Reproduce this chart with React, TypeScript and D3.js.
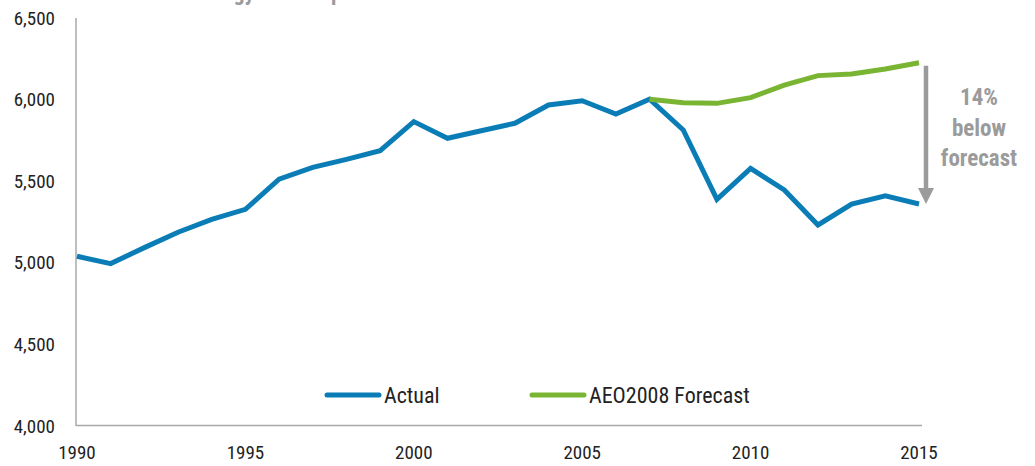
import React from "react";
import * as d3 from "d3";

// Energy consumption, actual vs. the 2008 outlook
const actualYears = [1990, 1991, 1992, 1993, 1994, 1995, 1996, 1997, 1998, 1999, 2000, 2001, 2002, 2003, 2004, 2005, 2006, 2007, 2008, 2009, 2010, 2011, 2012, 2013, 2014, 2015];
const actualValues = [5040, 4995, 5093, 5187, 5266, 5328, 5513, 5585, 5634, 5687, 5865, 5763, 5809, 5855, 5967, 5993, 5912, 6002, 5814, 5389, 5579, 5446, 5232, 5360, 5411, 5360];

const forecastYears = [2007, 2008, 2009, 2010, 2011, 2012, 2013, 2014, 2015];
const forecastValues = [6002, 5981, 5977, 6012, 6089, 6147, 6157, 6188, 6226];

const yTicks = [4000, 4500, 5000, 5500, 6000, 6500];
const xTicks = [1990, 1995, 2000, 2005, 2010, 2015];

const seriesNames = ["Actual", "AEO2008 Forecast"];
const annotationLines = ["14%", "below", "forecast"];
const titleText = "U.S. Energy Consumption";

const W = 1035;
const H = 466;
const BLUE = "#0b7db6";
const GREEN = "#79b532";
const GREY = "#9b9b9b";
const AXIS = "#a9a9a9";
const FONT = "'Liberation Sans Narrow', 'Roboto Condensed', 'DejaVu Sans Condensed', 'Liberation Sans', sans-serif";

export default function App() {
  const x = d3.scaleLinear().domain([1990, 2015]).range([77, 919]);
  const y = d3.scaleLinear().domain([4000, 6500]).range([426, 18]);
  const fmt = d3.format(",");

  const line = d3
    .line<[number, number]>()
    .x((d) => x(d[0]))
    .y((d) => y(d[1]));

  const actual = actualYears.map((yr, i) => [yr, actualValues[i]] as [number, number]);
  const forecast = forecastYears.map((yr, i) => [yr, forecastValues[i]] as [number, number]);

  const lastYear = forecastYears[forecastYears.length - 1];
  const arrowX = x(lastYear) + 7;
  const arrowTop = y(forecastValues[forecastValues.length - 1]) + 3;
  const arrowTip = y(actualValues[actualValues.length - 1]);
  const headH = 16;
  const headW = 8;

  return (
    <svg
      width={W}
      height={H}
      style={{ position: "absolute", left: 0, top: 0, background: "#fff" }}
      fontFamily={FONT}
    >
      {/* title, mostly above the frame */}
      <text x={152} y={0} fontSize={22} fontWeight="bold" fill={GREY}>
        {titleText}
      </text>

      {/* axes */}
      <line x1={76} x2={76} y1={y(6500)} y2={y(4000)} stroke={AXIS} strokeWidth={1.5} />
      <line x1={76} x2={922} y1={y(4000) - 0.5} y2={y(4000) - 0.5} stroke={AXIS} strokeWidth={1.5} />

      {yTicks.map((t) => (
        <text key={t} x={55} y={y(t)} dy="0.35em" textAnchor="end" fontSize={19} fill="#222">
          {fmt(t)}
        </text>
      ))}
      {xTicks.map((t) => (
        <text key={t} x={x(t)} y={459} textAnchor="middle" fontSize={19} fill="#222">
          {t}
        </text>
      ))}

      {/* series */}
      <path d={line(actual) ?? ""} fill="none" stroke={BLUE} strokeWidth={5} />
      <path d={line(forecast) ?? ""} fill="none" stroke={GREEN} strokeWidth={5} />

      {/* gap arrow */}
      <line x1={arrowX} x2={arrowX} y1={arrowTop} y2={arrowTip - headH + 1} stroke={GREY} strokeWidth={4.5} />
      <path
        d={`M${arrowX - headW},${arrowTip - headH} L${arrowX + headW},${arrowTip - headH} L${arrowX},${arrowTip} Z`}
        fill={GREY}
      />
      {annotationLines.map((s, i) => (
        <text
          key={s}
          x={979}
          y={97 + i * 30.5}
          dy="0.35em"
          textAnchor="middle"
          fontSize={23}
          fontWeight="bold"
          fill={GREY}
        >
          {s}
        </text>
      ))}

      {/* legend */}
      <line x1={327} x2={379} y1={395} y2={395} stroke={BLUE} strokeWidth={5} strokeLinecap="round" />
      <text x={384} y={395} dy="0.35em" fontSize={22} fill="#222">
        {seriesNames[0]}
      </text>
      <line x1={532} x2={584} y1={395} y2={395} stroke={GREEN} strokeWidth={5} strokeLinecap="round" />
      <text x={589} y={395} dy="0.35em" fontSize={22} fill="#222">
        {seriesNames[1]}
      </text>
    </svg>
  );
}
